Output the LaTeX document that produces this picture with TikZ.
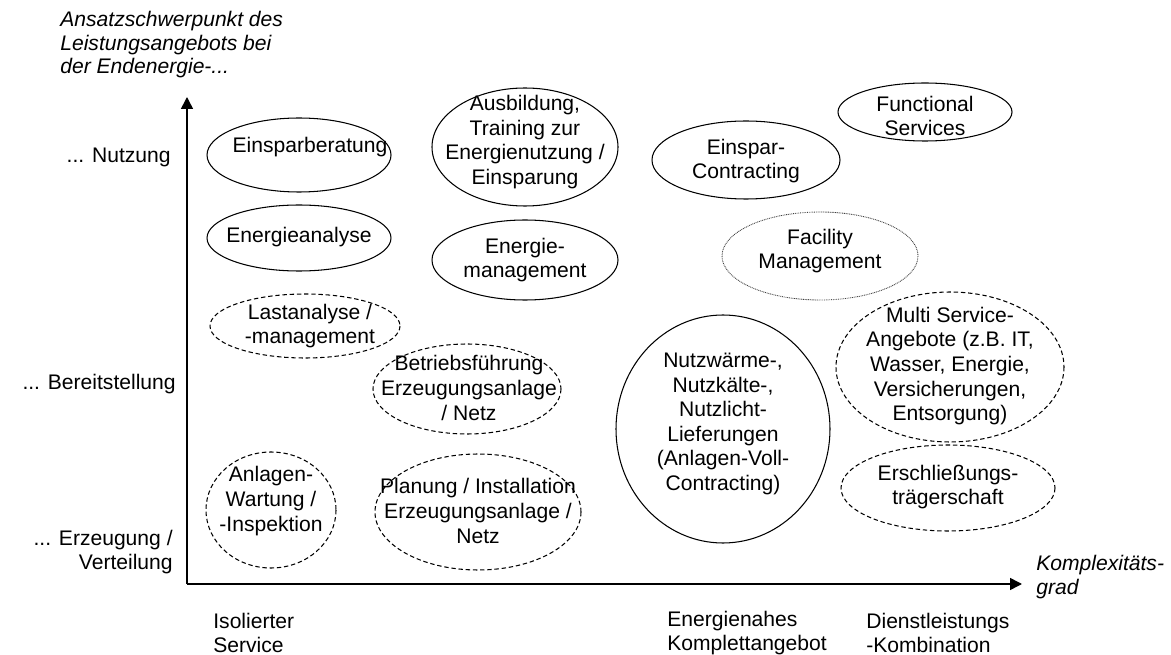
\documentclass[tikz,border=0pt]{standalone}
\usepackage{fontspec}
\setmainfont{Liberation Sans}
\usetikzlibrary{arrows.meta}
\tikzset{
  txt/.style     ={align=center,inner sep=0pt,font=\fontsize{12}{14}\selectfont},
  ring/.style    ={draw,line width=0.6pt},
  ringdash/.style={ring,dash pattern=on 2.5pt off 1.6pt},
  ringdot/.style ={draw=black!75,line width=0.5pt,dash pattern=on 0.5pt off 0.5pt},
  ax/.style      ={line width=0.9pt,-{Triangle[length=2.4mm,width=2.4mm]}},
  ylbl/.style    ={anchor=east,align=right,inner sep=0pt},
  xlbl/.style    ={anchor=west,align=left,inner sep=0pt},
}

\begin{document}
\begin{tikzpicture}[x=0.02cm,y=-0.02cm,font=\fontsize{12}{13.4}\selectfont]
\useasboundingbox (0,0) rectangle (1171,655);
\coordinate (O) at (187,584);
\coordinate (YT) at (187,97);
\coordinate (XT) at (1022,584);
\draw[ax] (O)--(YT);
\draw[ax] (O)--(XT);
\node[xlbl,font=\fontsize{12}{13.4}\selectfont\itshape] (YA) at (60,45) {Ansatzschwerpunkt des\\Leistungsangebots bei\\der Endenergie-...};
\node[xlbl,font=\fontsize{12}{13.4}\selectfont\itshape] (XA) at (1036,577) {Komplexitäts-\\grad};
\node[ylbl] (YN) at (171,157) {... Nutzung};
\node[ylbl] (YB) at (176,384) {... Bereitstellung};
\node[ylbl] (YE) at (173,552) {... Erzeugung /\\Verteilung};
\node[xlbl] (XI) at (213,633) {Isolierter\\Service};
\node[xlbl] (XE) at (667,633) {Energienahes\\Komplettangebot};
\node[xlbl] (XD) at (866,633) {Dienstleistungs\\-Kombination};
\node[txt] (ES) at (310,147) {Einsparberatung};
\node[txt] (AB) at (525,142) {Ausbildung,\\Training zur\\Energienutzung /\\Einsparung};
\node[txt] (EC) at (746,161) {Einspar-\\Contracting};
\node[txt] (FS) at (925,116) {Functional\\Services};
\node[txt] (EA) at (299,237) {Energieanalyse};
\node[txt] (EM) at (525,260) {Energie-\\management};
\node[txt] (FM) at (820,251) {Facility\\Management};
\node[txt] (LA) at (310,326) {Lastanalyse /\\-management};
\node[txt] (BF) at (469,388) {Betriebsführung\\Erzeugungsanlage\\/ Netz};
\node[txt] (NW) at (723,424) {Nutzwärme-,\\Nutzkälte-,\\Nutzlicht-\\Lieferungen\\(Anlagen-Voll-\\Contracting)};
\node[txt] (MS) at (950,366) {Multi Service-\\Angebote (z.B. IT,\\Wasser, Energie,\\Versicherungen,\\Entsorgung)};
\node[txt] (ET) at (948,487) {Erschließungs-\\trägerschaft};
\node[txt] (AW) at (271,501) {Anlagen-\\Wartung /\\-Inspektion};
\node[txt] (PI) at (478,511) {Planung / Installation\\Erzeugungsanlage /\\Netz};
\draw[ring] (299,155) ellipse [x radius=92,y radius=37];
\draw[ring] (525,147) ellipse [x radius=93,y radius=59];
\draw[ring] (746,160) ellipse [x radius=94,y radius=39];
\draw[ring] (925,112) ellipse [x radius=87,y radius=29];
\draw[ring] (299,238) ellipse [x radius=92,y radius=33];
\draw[ring] (525,260) ellipse [x radius=93,y radius=40];
\draw[ringdot] (820,256) ellipse [x radius=98,y radius=44];
\draw[ringdash] (305,326) ellipse [x radius=95,y radius=32];
\draw[ringdash] (467,389) ellipse [x radius=94,y radius=45];
\draw[ring] (723,429) ellipse [x radius=107,y radius=114];
\draw[ringdash] (950,367) ellipse [x radius=114,y radius=75];
\draw[ringdash] (948,488) ellipse [x radius=107,y radius=43];
\draw[ringdash] (271,510) ellipse [x radius=65,y radius=58];
\draw[ringdash] (478,512) ellipse [x radius=103,y radius=58];
\end{tikzpicture}
\end{document}
